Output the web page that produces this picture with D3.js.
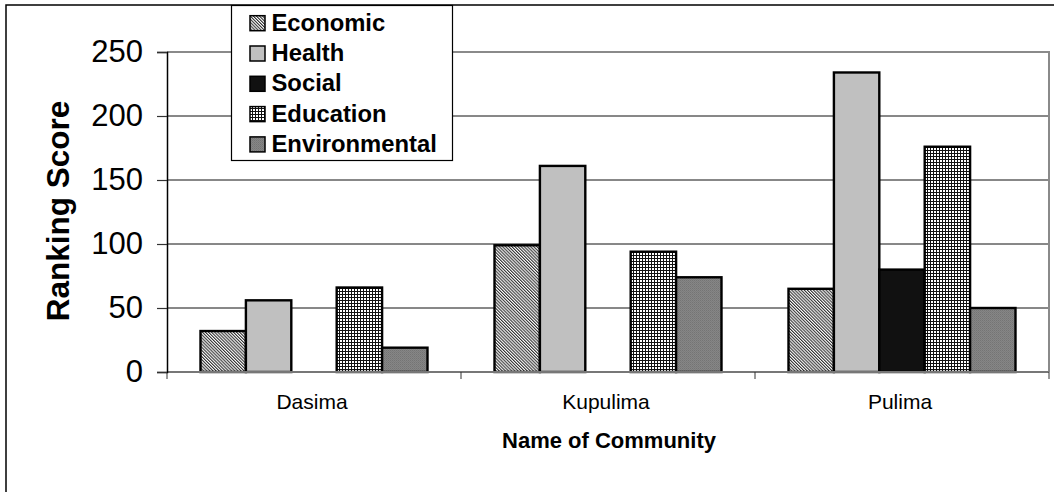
<!DOCTYPE html>
<html>
<head>
<meta charset="utf-8">
<script src="https://cdn.jsdelivr.net/npm/d3@7"></script>
<style>
  html, body { margin: 0; padding: 0; background: #fff; }
  svg { display: block; }
  text { font-family: "Liberation Sans", Arial, sans-serif; fill: #000; }
</style>
</head>
<body>
<svg id="chart" width="1054" height="492"></svg>
<script>
const categories = ["Dasima", "Kupulima", "Pulima"];
const seriesNames = ["Economic", "Health", "Social", "Education", "Environmental"];
const economic = [32, 99, 65];
const health = [56, 161, 234];
const social = [0, 0, 80];
const education = [66, 94, 176];
const environmental = [19, 74, 50];
const yTicks = [0, 50, 100, 150, 200, 250];

const seriesValues = [economic, health, social, education, environmental];
const fills = ["url(#patEcon)", "#c0c0c0", "#111111", "url(#patEdu)", "url(#patEnv)"];

const svg = d3.select("#chart");
const W = 1054, H = 492;
const plot = { left: 167, right: 1049, top: 52, bottom: 372 };

// patterns
const defs = svg.append("defs");
const pe = defs.append("pattern").attr("id", "patEcon").attr("patternUnits", "userSpaceOnUse")
  .attr("width", 2.2).attr("height", 4).attr("patternTransform", "rotate(-45)");
pe.append("rect").attr("width", 2.2).attr("height", 4).attr("fill", "#fff");
pe.append("rect").attr("width", 1.1).attr("height", 4).attr("fill", "#333");

const pd = defs.append("pattern").attr("id", "patEdu").attr("patternUnits", "userSpaceOnUse")
  .attr("width", 3).attr("height", 3);
pd.append("rect").attr("width", 3).attr("height", 3).attr("fill", "#fff");
pd.append("rect").attr("width", 3).attr("height", 1).attr("fill", "#111");
pd.append("rect").attr("width", 1).attr("height", 3).attr("fill", "#111");

const pv = defs.append("pattern").attr("id", "patEnv").attr("patternUnits", "userSpaceOnUse")
  .attr("width", 2).attr("height", 2);
pv.append("rect").attr("width", 2).attr("height", 2).attr("fill", "#868686");
pv.append("rect").attr("width", 1).attr("height", 1).attr("fill", "#747474");
pv.append("rect").attr("x", 1).attr("y", 1).attr("width", 1).attr("height", 1).attr("fill", "#7c7c7c");

// background + outer border
svg.append("rect").attr("width", W).attr("height", H).attr("fill", "#fff");
svg.append("rect").attr("x", 6).attr("y", 5).attr("width", W + 20).attr("height", H + 20)
  .attr("fill", "none").attr("stroke", "#000").attr("stroke-width", 1.5);

// scales
const x0 = d3.scaleBand().domain(categories).range([plot.left, plot.right]).padding(0);
const x1 = d3.scaleBand().domain(seriesNames).range([0, x0.bandwidth()]).paddingInner(0).paddingOuter(0.738);
const y = d3.scaleLinear().domain([0, 250]).range([plot.bottom, plot.top]);

// gridlines
svg.append("g").selectAll("line").data(yTicks.filter(t => t > 0 && t < 250)).join("line")
  .attr("x1", plot.left).attr("x2", plot.right)
  .attr("y1", d => y(d)).attr("y2", d => y(d))
  .attr("stroke", "#111").attr("stroke-width", 1);

// plot area border (top/right gray)
svg.append("path")
  .attr("d", `M${plot.left},${y(250)}H${plot.right}V${plot.bottom}`)
  .attr("fill", "none").attr("stroke", "#8a8a8a").attr("stroke-width", 2);

// bars
const gBars = svg.append("g");
categories.forEach((c, ci) => {
  seriesNames.forEach((s, si) => {
    const v = seriesValues[si][ci];
    if (v <= 0) return;
    gBars.append("rect")
      .attr("x", x0(c) + x1(s))
      .attr("y", y(v))
      .attr("width", x1.bandwidth())
      .attr("height", y(0) - y(v))
      .attr("fill", fills[si])
      .attr("stroke", "#000").attr("stroke-width", 2.4);
  });
});

// x baseline
svg.append("line").attr("x1", plot.left).attr("x2", plot.right)
  .attr("y1", y(0)).attr("y2", y(0)).attr("stroke", "#777").attr("stroke-width", 2);

// x boundary ticks
const bounds = categories.map(c => x0(c)).concat([x0(categories[2]) + x0.bandwidth()]);
svg.append("g").selectAll("line").data(bounds).join("line")
  .attr("x1", d => d).attr("x2", d => d)
  .attr("y1", y(0)).attr("y2", y(0) + 7)
  .attr("stroke", "#333").attr("stroke-width", 1);

// category labels
svg.append("g").selectAll("text").data(categories).join("text")
  .attr("x", d => x0(d) + x0.bandwidth() / 2 - 2)
  .attr("y", 409)
  .attr("text-anchor", "middle")
  .attr("font-size", 21)
  .text(d => d);

// y axis
const yAxis = d3.axisLeft(y).tickValues(yTicks).tickSize(10).tickPadding(14).tickFormat(d3.format("d"));
const gy = svg.append("g").attr("transform", `translate(${plot.left},0)`).call(yAxis);
gy.select(".domain").attr("stroke", "#000").attr("stroke-width", 1.5);
gy.selectAll(".tick line").attr("stroke", "#333").attr("stroke-width", 1.2);
gy.selectAll(".tick text").attr("font-size", 31).attr("fill", "#000")
  .attr("font-family", "'Liberation Sans', Arial, sans-serif");

// axis titles
svg.append("text")
  .attr("transform", `translate(69,${(plot.top + plot.bottom) / 2 - 1}) rotate(-90)`)
  .attr("text-anchor", "middle")
  .attr("font-size", 31.5).attr("font-weight", "bold")
  .text("Ranking Score");

svg.append("text")
  .attr("x", (plot.left + plot.right) / 2 + 1).attr("y", 448)
  .attr("text-anchor", "middle")
  .attr("font-size", 22).attr("font-weight", "bold")
  .text("Name of Community");

// legend
const lg = svg.append("g");
lg.append("rect").attr("x", 231.5).attr("y", 5.5).attr("width", 221).attr("height", 155)
  .attr("fill", "#fff").attr("stroke", "#000").attr("stroke-width", 1.2);
seriesNames.forEach((s, i) => {
  const base = 30.7 + i * 30.3;
  lg.append("rect").attr("x", 250).attr("y", base - 15).attr("width", 15).attr("height", 15)
    .attr("fill", fills[i]).attr("stroke", "#000").attr("stroke-width", 1.5);
  lg.append("text").attr("x", 271.5).attr("y", base)
    .attr("font-size", 23.8).attr("font-weight", "bold").text(s);
});
</script>
</body>
</html>
